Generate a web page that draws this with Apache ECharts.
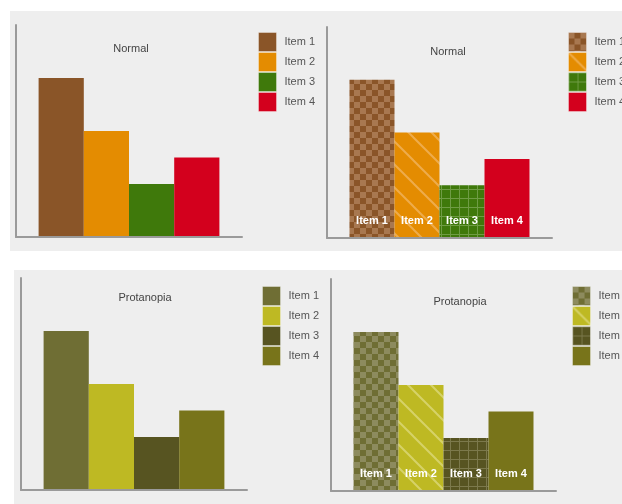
<!DOCTYPE html>
<html>
<head>
<meta charset="utf-8">
<script src="https://cdn.jsdelivr.net/npm/echarts@6/dist/echarts.min.js"></script>
<style>
  html, body { margin: 0; padding: 0; background: #ffffff; }
  #chart { width: 622px; height: 504px; }
</style>
</head>
<body>
<div id="chart"></div>
<script>
// Chart data
const categories = ['Item 1', 'Item 2', 'Item 3', 'Item 4'];
const values = [6, 4, 2, 3];
const yMax = 8;
const normalColors = ['#8a5528', '#e48c01', '#3f790b', '#d3001d'];
const protanopiaColors = ['#6f6e34', '#beb923', '#575421', '#78741a'];
const normalAccents = ['#a87850', '#eeac4c', '#6f9c45', null];
const protanopiaAccents = ['#8d8b5e', '#d6d268', '#7c794c', null];
const panelTitles = ['Normal', 'Normal', 'Protanopia', 'Protanopia'];

const FONT = '"Liberation Sans", Arial, sans-serif';

// Texture builders: checkerboard, diagonal stripes, grid
function checker(base, light) {
  const s = 6, c = document.createElement('canvas');
  c.width = c.height = s * 2;
  const g = c.getContext('2d');
  g.fillStyle = base; g.fillRect(0, 0, s * 2, s * 2);
  g.fillStyle = light; g.fillRect(0, 0, s, s); g.fillRect(s, s, s, s);
  return { image: c, repeat: 'repeat' };
}
function stripes(base, light) {
  const S = 23, c = document.createElement('canvas');
  c.width = c.height = S;
  const g = c.getContext('2d');
  g.fillStyle = base; g.fillRect(0, 0, S, S);
  g.strokeStyle = light; g.lineWidth = 2;
  for (let k = -1; k <= 1; k++) {
    g.beginPath();
    g.moveTo(k * S - 3, -3);
    g.lineTo(k * S + S + 3, S + 3);
    g.stroke();
  }
  return { image: c, repeat: 'repeat' };
}
function gridTex(base, light) {
  const S = 9, c = document.createElement('canvas');
  c.width = c.height = S;
  const g = c.getContext('2d');
  g.fillStyle = base; g.fillRect(0, 0, S, S);
  g.fillStyle = light; g.fillRect(0, 0, 1, S); g.fillRect(0, 0, S, 1);
  return { image: c, repeat: 'repeat' };
}
function fills(colors, accents, textured) {
  if (!textured) return colors.slice();
  return [
    checker(colors[0], accents[0]),
    stripes(colors[1], accents[1]),
    gridTex(colors[2], accents[2]),
    colors[3]
  ];
}

// Layout of the four panels
const panels = [
  { key: 'n0', grid: { left: 16, top: 25, width: 226, height: 212 }, legend: [258, 32], title: [131, 49],
    colors: fills(normalColors, normalAccents, false), labels: false },
  { key: 'n1', grid: { left: 327, top: 27, width: 225, height: 211 }, legend: [568, 32], title: [448, 52],
    colors: fills(normalColors, normalAccents, true), labels: true },
  { key: 'p0', grid: { left: 21, top: 278, width: 226, height: 212 }, legend: [262, 286], title: [145, 298],
    colors: fills(protanopiaColors, protanopiaAccents, false), labels: false },
  { key: 'p1', grid: { left: 331, top: 279, width: 225, height: 212 }, legend: [572, 286], title: [460, 302],
    colors: fills(protanopiaColors, protanopiaAccents, true), labels: true }
];

// Padded category list so bars sit on ticks and touch each other
const axisCats = [''].concat(categories, ['']);

const grids = [], xAxes = [], yAxes = [], legends = [], series = [], graphics = [];

graphics.push({ type: 'rect', z: -10, shape: { x: 10, y: 11, width: 612, height: 240 }, style: { fill: '#eeeeee' } });
graphics.push({ type: 'rect', z: -10, shape: { x: 14, y: 270, width: 608, height: 234 }, style: { fill: '#eeeeee' } });

const axisLine = { show: true, lineStyle: { color: '#9a9a9a', width: 2 } };

panels.forEach((p, pi) => {
  grids.push(Object.assign({ containLabel: false }, p.grid));
  xAxes.push({
    type: 'category', gridIndex: pi, data: axisCats, boundaryGap: false, z: 5,
    axisLine: Object.assign({ onZero: false }, axisLine),
    axisTick: { show: false }, axisLabel: { show: false }, splitLine: { show: false }
  });
  yAxes.push({
    type: 'value', gridIndex: pi, min: 0, max: yMax, z: 5,
    axisLine: axisLine, axisTick: { show: false }, axisLabel: { show: false }, splitLine: { show: false }
  });
  const names = categories.map(c => p.key + '|' + c);
  legends.push({
    data: names, orient: 'vertical', left: p.legend[0], top: p.legend[1], padding: 0,
    itemWidth: 18, itemHeight: 19, itemGap: 0, icon: 'rect', selectedMode: false,
    formatter: n => n.split('|')[1],
    itemStyle: { borderColor: 'rgba(255,255,255,0.35)', borderWidth: 1 },
    textStyle: { fontFamily: FONT, fontSize: 11, lineHeight: 14, color: '#555555', padding: [2, 0, 0, 3] }
  });
  categories.forEach((c, i) => {
    const data = axisCats.map(() => '-');
    data[i + 1] = values[i];
    series.push({
      type: 'bar', name: names[i], xAxisIndex: pi, yAxisIndex: pi, stack: 's' + pi,
      data: data, barCategoryGap: '0%',
      itemStyle: { color: p.colors[i] },
      emphasis: { disabled: true },
      label: {
        show: p.labels, position: 'insideBottom', distance: 12,
        formatter: '{b}', color: '#ffffff', fontWeight: 'bold', fontSize: 11, fontFamily: FONT
      }
    });
  });
  graphics.push({
    type: 'text', x: p.title[0], y: p.title[1], z: 10,
    style: { text: panelTitles[pi], fill: '#444444', font: '11px ' + FONT, textAlign: 'center', textVerticalAlign: 'middle' }
  });
});

const chart = echarts.init(document.getElementById('chart'), null, { renderer: 'canvas' });
chart.setOption({
  animation: false,
  backgroundColor: '#ffffff',
  grid: grids, xAxis: xAxes, yAxis: yAxes, legend: legends, series: series,
  graphic: graphics
});
</script>
</body>
</html>
